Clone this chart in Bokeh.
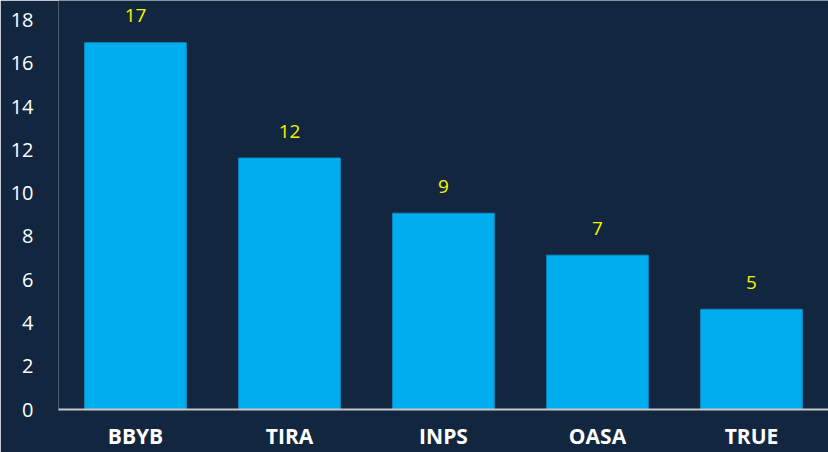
from bokeh.plotting import figure
from bokeh.models import ColumnDataSource, Range1d, FixedTicker
from bokeh.embed import file_html
from bokeh.resources import INLINE

categories = ["BBYB", "TIRA", "INPS", "OASA", "TRUE"]
values = [16.95, 11.62, 9.07, 7.13, 4.63]
labels = ["17", "12", "9", "7", "5"]
y_ticks = [0, 2, 4, 6, 8, 10, 12, 14, 16, 18]

BG = "#12263f"
BAR = "#00aeef"

src = ColumnDataSource(dict(cat=categories, val=values, lab=labels))

p = figure(x_range=categories, y_range=Range1d(0, 18.9), width=828, height=452,
           output_backend="svg", toolbar_location=None,
           background_fill_color=BG, border_fill_color=BG, outline_line_color=None,
           min_border_left=58, min_border_right=0, min_border_top=0, min_border_bottom=43)

p.vbar(x="cat", top="val", width=0.66, source=src, fill_color=BAR,
       line_color="#0a8fc9", line_width=1)
p.text(x="cat", y="val", text="lab", source=src, text_align="center",
       text_baseline="middle", y_offset=-27, text_color="#f5f500",
       text_font_size="19px", text_font={"value": "Open Sans"})

p.x_range.range_padding = 0
p.xgrid.visible = False
p.ygrid.visible = False

xa = p.xaxis[0]
xa.axis_line_color = "#c8c8c8"
xa.axis_line_width = 2
xa.major_tick_line_color = None
xa.minor_tick_line_color = None
xa.major_label_text_color = "#ffffff"
xa.major_label_text_font = "Open Sans"
xa.major_label_text_font_style = "bold"
xa.major_label_text_font_size = "21px"
xa.major_label_standoff = 6

ya = p.yaxis[0]
ya.ticker = FixedTicker(ticks=y_ticks)
ya.axis_line_color = None
ya.major_tick_line_color = None
ya.minor_tick_line_color = None
ya.major_label_text_color = "#ffffff"
ya.major_label_text_font = "Open Sans"
ya.major_label_text_font_size = "20px"
ya.major_label_standoff = 19

open("out.html", "w").write(file_html(p, INLINE))
